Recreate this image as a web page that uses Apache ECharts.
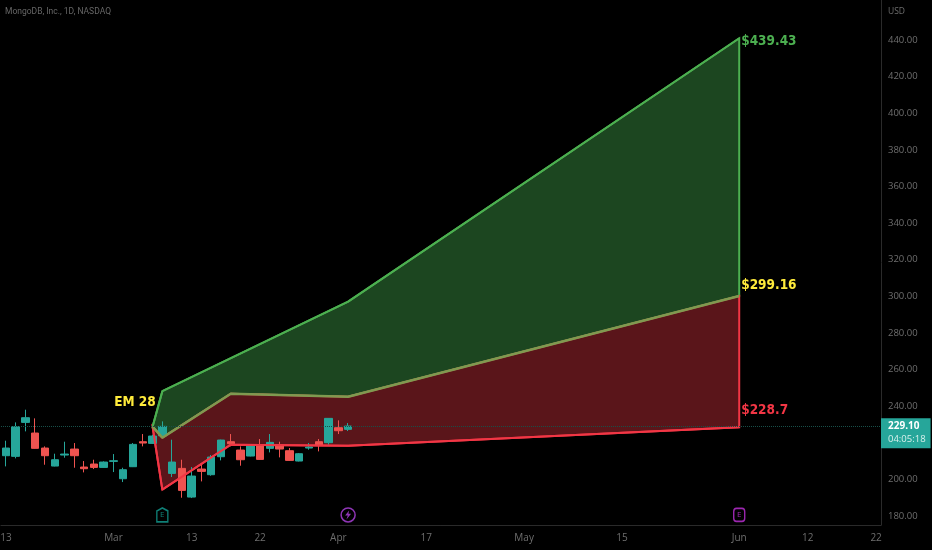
<!DOCTYPE html>
<html>
<head>
<meta charset="utf-8">
<style>html,body{margin:0;padding:0;background:#000}#c{width:932px;height:550px}</style>
<script src="https://cdn.jsdelivr.net/npm/echarts@6/dist/echarts.min.js"></script>
</head>
<body>
<div id="c"></div>
<script>
const barCount = 90;
const tickLabels = {0:'13',11:'Mar',19:'13',26:'22',34:'Apr',43:'17',53:'May',63:'15',75:'Jun',82:'12',89:'22'};
const priceTicks = [180,200,240,260,280,300,320,340,360,380,400,420,440];
// [open, close, low, high]
const candles = [
[212.95,217.14,207.12,221.15],[212.59,228.80,211.49,231.16],[231.16,233.72,226.25,238.09],[225.34,216.96,216.77,233.35],
[217.14,212.95,208.03,218.05],[207.30,210.76,207.12,214.04],[213.31,213.86,211.86,220.60],[216.59,212.95,206.39,219.87],
[206.76,205.85,203.84,210.04],[208.40,206.57,205.66,210.76],[206.57,209.49,206.39,209.85],[209.85,210.22,204.02,213.86],
[200.38,205.30,198.56,206.39],[206.94,219.14,206.76,219.87],[220.60,219.87,218.05,224.79],[219.69,223.70,219.51,224.43],
[223.88,228.98,223.51,231.71],[203.30,209.49,201.29,221.69],[206.03,194.01,190.00,210.76],[190.36,201.84,189.82,206.76],
[205.66,204.39,198.92,208.03],[202.57,212.22,202.02,213.31],[212.40,221.51,210.40,221.69],[220.60,219.51,218.05,224.79],
[216.05,210.76,207.49,218.05],[212.77,218.78,212.59,218.96],[218.78,210.95,210.76,222.06],[216.96,220.24,214.77,224.79],
[218.78,216.59,212.04,220.60],[215.68,210.40,210.22,217.14],[210.04,214.04,209.85,214.41],[217.14,217.69,216.23,219.87],
[220.60,218.78,215.32,222.06],[220.05,233.35,218.96,233.53],[228.25,226.61,224.79,232.26],[227.34,229.16,226.43,230.80]
];
const upperCone = [[15,228.8],[16,248.2],[35,297.1],[75,441]];
const middleCone = [[15,228.8],[16,222.8],[23,246.8],[35,245.2],[75,300.2]];
const lowerCone = [[15,228.8],[16,194.4],[23,219],[35,218.4],[75,228.5]];
const lastPrice = 229.10;
const countdown = '04:05:18';
const noteLabels = [
  {at:[75,439.2], text:'$439.43', color:'#4caf50'},
  {at:[75,305.9], text:'$299.16', color:'#ffeb3b'},
  {at:[75,237.6], text:'$228.7', color:'#f23645'}
];
const emLabel = {at:[13,242], text:'EM 28'};
const events = [
  {at:[16,180.6], kind:'earn', color:'#0f7f76'},
  {at:[35,180.6], kind:'split', color:'#8e35b5'},
  {at:[75,180.6], kind:'next', color:'#9c27b0'}
];

const xCategories = Array.from({length:barCount},(_,i)=>tickLabels[i]||'');
const labelFont = '"Open Sans", "Noto Sans", sans-serif';
const noteFont = '"DejaVu Sans Condensed","Liberation Sans Narrow","Noto Sans",sans-serif';

function polygonSeries(a, b, fill, stroke){
  const pts = a.concat(b.slice().reverse());
  return {
    type:'custom', coordinateSystem:'cartesian2d', z:1, silent:true, clip:false,
    data:pts, encode:{x:0,y:1},
    renderItem(params, api){
      if(params.dataIndex!==0) return null;
      return {type:'polygon', shape:{points:pts.map(p=>api.coord(p))},
        style:{fill:fill, stroke:stroke, lineWidth:2, lineJoin:'miter'}};
    }
  };
}
const eventSymbols = {
  earn:'path://M0,3 L5,0 L10,3 L10,14 L0,14 Z',
  split:'circle',
  next:'roundRect'
};
const boltSymbol = 'path://M6,0 L0,8 L4,8 L2,14 L9,5 L5,5 Z';

const option = {
  animation:false,
  backgroundColor:'#000',
  title:[
    {text:'MongoDB, Inc., 1D, NASDAQ', left:5, top:7, padding:0, textStyle:{color:'#666',fontSize:8.5,fontWeight:'normal',fontFamily:'Roboto, "Open Sans", sans-serif'}},
    {text:'USD', left:888, top:7, padding:0, textStyle:{color:'#6e6e6e',fontSize:8.5,fontWeight:'normal',fontFamily:labelFont}}
  ],
  grid:{left:1, top:0, width:880, height:525, containLabel:false, outerBoundsMode:'none'},
  xAxis:{
    type:'category', data:xCategories, boundaryGap:true,
    axisLine:{show:true,lineStyle:{color:'#2a2a2a',width:1}},
    axisTick:{show:false}, splitLine:{show:false},
    axisLabel:{color:'#6e6e6e',fontSize:10,fontFamily:labelFont,margin:8,hideOverlap:false,
      interval:(i,v)=>v!==''}
  },
  yAxis:{
    type:'value', position:'right', min:175.1, max:461.9, scale:true,
    axisLine:{show:true,lineStyle:{color:'#2a2a2a',width:1}},
    axisTick:{show:false}, splitLine:{show:false},
    axisLabel:{color:'#6e6e6e',fontSize:9.5,fontFamily:labelFont,margin:7,customValues:priceTicks,
      formatter:v=>v.toFixed(2)}
  },
  series:[
    polygonSeries(upperCone, middleCone, '#1c4620', '#4caf50'),
    polygonSeries(middleCone, lowerCone, '#5a151a', '#f23645'),
    {
      type:'candlestick', z:3, data:candles, barWidth:8, silent:true,
      itemStyle:{color:'#26a69a',color0:'#ef5350',borderColor:'#26a69a',borderColor0:'#ef5350',borderWidth:1},
      markLine:{
        silent:true, symbol:'none', animation:false,
        lineStyle:{color:'#174f49',type:'dotted',width:1},
        data:[{yAxis:lastPrice}],
        label:{
          show:true, position:'end', distance:0, offset:[0,7],
          formatter:()=>'{a|'+lastPrice.toFixed(2)+'}\n{b|'+countdown+'}',
          backgroundColor:'#26a69a', padding:[2,5,2,7],
          rich:{
            a:{color:'#fff',fontSize:10,fontWeight:'bold',fontFamily:labelFont,lineHeight:13},
            b:{color:'#d8f0ec',fontSize:9.5,fontFamily:labelFont,lineHeight:13}
          }
        }
      }
    },
    {type:'line', z:4, data:lowerCone, symbol:'none', silent:true, lineStyle:{color:'#f23645',width:2}},
    {type:'line', z:4, data:upperCone, symbol:'none', silent:true, lineStyle:{color:'#4caf50',width:2}},
    {type:'line', z:4, data:middleCone, symbol:'none', silent:true, lineStyle:{color:'#7f9a50',width:2.5}},
    {
      type:'scatter', z:5, symbolSize:0, silent:true, clip:false, itemStyle:{opacity:1},
      data:noteLabels.map(n=>({value:n.at, label:{formatter:n.text, color:n.color}})),
      label:{show:true, position:'right', distance:2, fontSize:13.5, fontWeight:'bold', fontFamily:noteFont}
    },
    {
      type:'scatter', z:5, symbolSize:0, silent:true, itemStyle:{opacity:1},
      data:[{value:emLabel.at}],
      label:{show:true, position:'inside', formatter:emLabel.text, color:'#ffeb3b', fontSize:13.5, fontWeight:'bold', fontFamily:noteFont, offset:[2,0]}
    },
    {
      type:'scatter', z:5, silent:true, itemStyle:{opacity:1},
      data:events.map(e=>({
        value:e.at,
        symbol:eventSymbols[e.kind],
        symbolSize:e.kind==='earn'?[11,14]:e.kind==='next'?[11,13]:14,
        itemStyle:{color:'rgba(0,0,0,0)',borderColor:e.color,borderWidth:1.5,opacity:1},
        label:{formatter:e.kind==='split'?'':'E',color:e.color}
      })),
      label:{show:true, position:'inside', fontSize:8, fontFamily:labelFont}
    },
    {
      type:'scatter', z:6, silent:true, symbol:boltSymbol, symbolSize:[6,9],
      itemStyle:{color:'#8e35b5',opacity:1},
      data:events.filter(e=>e.kind==='split').map(e=>e.at)
    }
  ]
};
const chart = echarts.init(document.getElementById('c'),null,{renderer:'canvas'});
chart.setOption(option);
</script>
</body>
</html>
